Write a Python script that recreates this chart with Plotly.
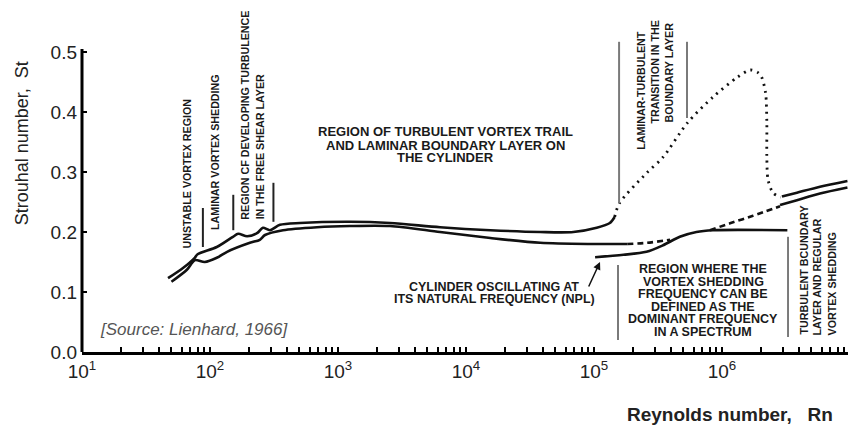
import plotly.graph_objects as go

# ---------------- data ----------------
# Upper solid boundary of the Strouhal band
upper_re = [47, 61.5, 76, 80, 113, 151, 166, 195, 233, 259, 294, 352, 505, 1240,
            2550, 6270, 15500, 38000, 69000, 105000, 133000, 145000]
upper_st = [0.123, 0.140, 0.157, 0.163, 0.175, 0.192, 0.197, 0.193, 0.198, 0.207,
            0.203, 0.212, 0.215, 0.217, 0.215, 0.208, 0.203, 0.200, 0.200, 0.207,
            0.215, 0.225]

# Lower solid boundary of the Strouhal band
lower_re = [50, 66, 76, 91, 113, 136, 205, 245, 269, 372, 686, 1240, 2550, 6270,
            15500, 38000, 93000, 182000]
lower_st = [0.117, 0.137, 0.153, 0.150, 0.157, 0.167, 0.182, 0.187, 0.195, 0.203,
            0.208, 0.210, 0.210, 0.200, 0.190, 0.182, 0.180, 0.180]

# Dashed continuation of the lower boundary
lowdash_re = [182000, 260000, 393000]
lowdash_st = [0.180, 0.182, 0.187]

# Cylinder oscillating at its natural frequency (NPL)
npl_re = [102000, 170000, 257000, 347000, 468000, 631000, 851000, 3240000]
npl_st = [0.158, 0.162, 0.167, 0.178, 0.192, 0.200, 0.203, 0.203]

# Dashed rising branch
rise_re = [805000, 1155000, 1746000, 2840000]
rise_st = [0.203, 0.2145, 0.227, 0.243]

# Right-hand (turbulent boundary layer) band
right_up_re = [2940000, 3850000, 5830000, 9550000]
right_up_st = [0.259, 0.2655, 0.2755, 0.285]
right_lo_re = [2840000, 3850000, 5830000, 9550000]
right_lo_st = [0.245, 0.253, 0.264, 0.274]

# Dotted laminar-turbulent transition loop
trans_re = [145000, 158000, 257000, 347000, 537000, 851000, 1320000, 1660000,
            1900000, 2040000, 2190000, 2240000, 2240000, 2290000, 2510000, 2880000]
trans_st = [0.225, 0.248, 0.298, 0.325, 0.382, 0.425, 0.458, 0.470, 0.466, 0.458,
            0.432, 0.382, 0.325, 0.287, 0.265, 0.258]

# Region marker lines (Re position, St from, St to)
guide_dark_re = [88, 152, 313]
guide_dark_lo = [0.175, 0.203, 0.217]
guide_dark_hi = [0.240, 0.262, 0.282]
guide_gray_re = [157000, 533000, 3280000, 154000]
guide_gray_lo = [0.248, 0.390, 0.025, 0.020]
guide_gray_hi = [0.517, 0.517, 0.192, 0.145]

# Axis ticks
y_ticks = [0.0, 0.1, 0.2, 0.3, 0.4, 0.5]
y_ticktext = ["0.0", "0.1", "0.2", "0.3", "0.4", "0.5"]
decades = [1, 2, 3, 4, 5, 6, 7]

# ---------------- figure ----------------
FONT = "Liberation Sans, Arial, sans-serif"
VSIZE = 10.7
fig = go.Figure()

def curve(x, y, dash="solid", width=2.6, shape="spline", color="#111"):
    fig.add_trace(go.Scatter(x=x, y=y, mode="lines",
                             line=dict(color=color, width=width, dash=dash,
                                       shape=shape, smoothing=0.8),
                             hoverinfo="skip", showlegend=False))

curve(upper_re, upper_st)
curve(lower_re, lower_st)
curve(lowdash_re, lowdash_st, dash="6px,4px")
curve(npl_re, npl_st)
curve(rise_re, rise_st, dash="6px,4px")
curve(right_up_re, right_up_st)
curve(right_lo_re, right_lo_st)
curve(trans_re, trans_st, dash="2px,5px", width=2.8)

def guides(res, los, his, color, width):
    xs, ys = [], []
    for r, a, b in zip(res, los, his):
        xs += [r, r, None]
        ys += [a, b, None]
    fig.add_trace(go.Scatter(x=xs, y=ys, mode="lines",
                             line=dict(color=color, width=width),
                             hoverinfo="skip", showlegend=False))

guides(guide_dark_re, guide_dark_lo, guide_dark_hi, "#222", 2)
guides(guide_gray_re, guide_gray_lo, guide_gray_hi, "#7a7a7a", 2)

# x tick positions: decades plus minor 2..9
tickvals, ticktext = [], []
for d in decades:
    tickvals.append(10 ** d)
    ticktext.append(f"10<sup>{d}</sup>")
    if d < decades[-1]:
        for m in range(2, 10):
            tickvals.append(m * 10 ** d)
            ticktext.append(" ")

fig.update_xaxes(type="log", range=[1, 7], showline=True, linewidth=3,
                 linecolor="#000", ticks="inside", ticklen=5, tickwidth=1.5,
                 tickcolor="#000", tickvals=tickvals, ticktext=ticktext,
                 tickangle=0,
                 tickfont=dict(family=FONT, size=19, color="#222"),
                 ticklabelstandoff=0,
                 showgrid=False, zeroline=False, automargin=False)
fig.update_yaxes(range=[0, 0.525], showline=False, ticks="inside", ticklen=5,
                 tickwidth=1.5, tickcolor="#000", tickvals=y_ticks,
                 ticktext=y_ticktext,
                 tickfont=dict(family=FONT, size=19, color="#222"),
                 ticklabelstandoff=4,
                 showgrid=False, zeroline=False, automargin=False)

# y axis line (stops just above 0.5)
fig.add_shape(type="line", xref="paper", yref="y", x0=0, x1=0, y0=0, y1=0.505,
              line=dict(color="#000", width=3))

annotations = []

def txt(text, x, y, size=VSIZE, angle=0, xanchor="center", yanchor="middle",
        bold=True, italic=False, color="#1a1a1a", ref="x"):
    annotations.append(dict(text=text, x=x, y=y,
                            xref="x" if ref == "x" else "paper",
                            yref="y" if ref == "x" else "paper",
                            showarrow=False, textangle=angle,
                            xanchor=xanchor, yanchor=yanchor,
                            font=dict(family=FONT, size=size, color=color,
                                      weight="bold" if bold else "normal",
                                      style="italic" if italic else "normal")))

# vertical labels (reading bottom to top)
txt("UNSTABLE VORTEX REGION", 1.820, 0.170, angle=-90, yanchor="bottom")
txt("LAMINAR VORTEX SHEDDING", 2.039, 0.200, angle=-90, yanchor="bottom")
txt("REGION CF DEVELOPING TURBULENCE", 2.273, 0.218, angle=-90, yanchor="bottom")
txt("IN THE FREE SHEAR LAYER", 2.391, 0.217, angle=-90, yanchor="bottom")
txt("LAMINAR-TURBULENT", 5.367, 0.437, angle=-90)
txt("TRANSITION IN THE", 5.477, 0.466, angle=-90)
txt("BOUNDARY LAYER", 5.586, 0.466, angle=-90)
txt("TURBULENT BCUNDARY", 6.633, 0.025, angle=-90, yanchor="bottom")
txt("LAYER AND REGULAR", 6.742, 0.025, angle=-90, yanchor="bottom")
txt("VORTEX SHEDDING", 6.859, 0.025, angle=-90, yanchor="bottom")

# horizontal labels
for line, yy in zip(["REGION OF TURBULENT VORTEX TRAIL",
                     "AND LAMINAR BOUNDARY LAYER ON",
                     "THE CYLINDER"], [0.367, 0.345, 0.324]):
    txt(line, 3.836, yy, size=13)
for line, yy in zip(["REGION WHERE THE", "VORTEX SHEDDING", "FREQUENCY CAN BE",
                     "DEFINED AS THE", "DOMINANT FREQUENCY", "IN A SPECTRUM"],
                    [0.138, 0.117, 0.097, 0.075, 0.055, 0.033]):
    txt(line, 5.852, yy, size=12.5)
txt("CYLINDER OSCILLATING AT", 4.215, 0.108, size=12.5)
txt("ITS NATURAL FREQUENCY (NPL)", 4.219, 0.088, size=12.5)
txt("[Source: Lienhard, 1966]", 1.125, 0.037, size=17, xanchor="left",
    bold=False, italic=True, color="#555")

# arrow to the NPL curve
annotations.append(dict(text="", x=5.047, y=0.150, xref="x", yref="y",
                        showarrow=True, ax=-12, ay=26, arrowhead=2,
                        arrowsize=1, arrowwidth=1.5, arrowcolor="#111"))

# axis titles (paper coordinates, outside the plot area)
txt("Strouhal number,\u00a0 St", -0.078, 0.663, size=18, angle=-90, bold=False,
    color="#222", ref="paper")
txt("Reynolds number,\u00a0\u00a0 Rn", 0.844, -0.197, size=19, bold=True,
    color="#222", ref="paper")

# The page body adds an 8px offset, so the figure is sized 8px smaller
fig.update_layout(template="none", width=848, height=418,
                  margin=dict(l=74, r=6, t=29, b=74),
                  plot_bgcolor="white", paper_bgcolor="white",
                  showlegend=False, annotations=annotations)

fig.write_html("out.html")
